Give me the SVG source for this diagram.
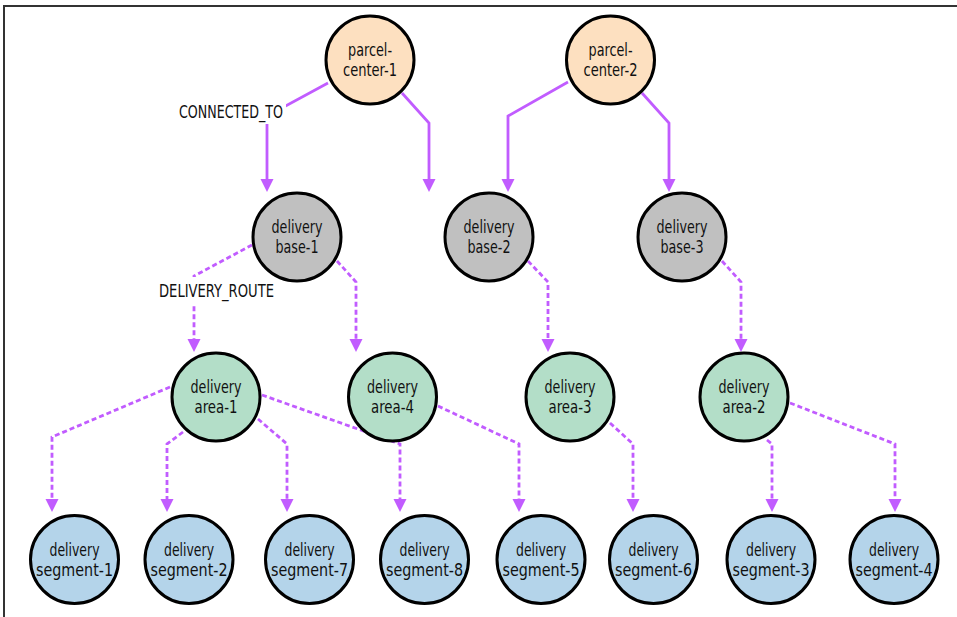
<svg xmlns="http://www.w3.org/2000/svg" width="957" height="617" viewBox="0 0 957 617">
<style>
.frame{fill:none;stroke:#333;stroke-width:2}
.edge{fill:none;stroke:#c15cff;stroke-width:2.8}
.dash{stroke-dasharray:5 3}
.node circle{stroke:#000;stroke-width:3}
.pc circle{fill:#fde0c0}
.base circle{fill:#c0c0c0}
.area circle{fill:#b3dec8}
.seg circle{fill:#b4d4ea}
text{font-family:"DejaVu Sans Condensed","Liberation Sans",sans-serif;font-stretch:condensed;font-size:17px;fill:#111;text-anchor:middle}
.lbl{fill:#fff}
</style>
<defs>
<marker id="arr" markerUnits="userSpaceOnUse" markerWidth="14" markerHeight="14" refX="0" refY="6.5" orient="auto" overflow="visible">
<path d="M0,0 L13,6.5 L0,13 Z" fill="#c15cff" stroke="none"/>
</marker>
</defs>
<path class="frame" d="M4,617 L4,6 L957,6"/>
<g id="connectors">
<path class="edge" marker-end="url(#arr)" d="M328,83 L267,116 L267,179"/>
<path class="edge" marker-end="url(#arr)" d="M402,93 L429,123 L429,179"/>
<path class="edge" marker-end="url(#arr)" d="M568,82 L508,116 L508,179"/>
<path class="edge" marker-end="url(#arr)" d="M642,93 L669,123 L669,179"/>
<path class="edge dash" marker-end="url(#arr)" d="M252,245 L194,276 L194,339"/>
<path class="edge dash" marker-end="url(#arr)" d="M337,261 L356,282 L356,339"/>
<path class="edge dash" marker-end="url(#arr)" d="M528,261 L548,282 L548,339"/>
<path class="edge dash" marker-end="url(#arr)" d="M722,261 L741,282 L741,339"/>
<path class="edge dash" marker-end="url(#arr)" d="M170,387 L52,437 L52,499"/>
<path class="edge dash" marker-end="url(#arr)" d="M183,432 L167,444 L167,499"/>
<path class="edge dash" marker-end="url(#arr)" d="M258,419 L287,444 L287,499"/>
<path class="edge dash" marker-end="url(#arr)" d="M262,395 L400,444 L400,499"/>
<path class="edge dash" marker-end="url(#arr)" d="M438,406 L519,444 L519,499"/>
<path class="edge dash" marker-end="url(#arr)" d="M610,423 L633,444 L633,499"/>
<path class="edge dash" marker-end="url(#arr)" d="M767,440 L772,444 L772,499"/>
<path class="edge dash" marker-end="url(#arr)" d="M790,403 L895,444 L895,499"/>
<rect class="lbl" x="176" y="102" width="110" height="22"/>
<text x="231" y="118" textLength="104" lengthAdjust="spacingAndGlyphs">CONNECTED_TO</text>
<rect class="lbl" x="156" y="277" width="121" height="27"/>
<text x="216.5" y="297" textLength="115" lengthAdjust="spacingAndGlyphs">DELIVERY_ROUTE</text>
</g>
<g id="parcel-center-1" class="node pc"><circle cx="370" cy="60" r="44"/><text x="370" y="56" textLength="44" lengthAdjust="spacingAndGlyphs">parcel-</text><text x="370" y="76" textLength="54" lengthAdjust="spacingAndGlyphs">center-1</text></g>
<g id="parcel-center-2" class="node pc"><circle cx="610.5" cy="60" r="44"/><text x="610.5" y="56" textLength="44" lengthAdjust="spacingAndGlyphs">parcel-</text><text x="610.5" y="76" textLength="54" lengthAdjust="spacingAndGlyphs">center-2</text></g>
<g id="delivery-base-1" class="node base"><circle cx="297" cy="237" r="44"/><text x="297" y="233" textLength="51" lengthAdjust="spacingAndGlyphs">delivery</text><text x="297" y="253" textLength="43" lengthAdjust="spacingAndGlyphs">base-1</text></g>
<g id="delivery-base-2" class="node base"><circle cx="489" cy="237" r="44"/><text x="489" y="233" textLength="51" lengthAdjust="spacingAndGlyphs">delivery</text><text x="489" y="253" textLength="43" lengthAdjust="spacingAndGlyphs">base-2</text></g>
<g id="delivery-base-3" class="node base"><circle cx="682" cy="237" r="44"/><text x="682" y="233" textLength="51" lengthAdjust="spacingAndGlyphs">delivery</text><text x="682" y="253" textLength="43" lengthAdjust="spacingAndGlyphs">base-3</text></g>
<g id="delivery-area-1" class="node area"><circle cx="216" cy="397" r="44"/><text x="216" y="393" textLength="51" lengthAdjust="spacingAndGlyphs">delivery</text><text x="216" y="413" textLength="43" lengthAdjust="spacingAndGlyphs">area-1</text></g>
<g id="delivery-area-4" class="node area"><circle cx="392.5" cy="397" r="44"/><text x="392.5" y="393" textLength="51" lengthAdjust="spacingAndGlyphs">delivery</text><text x="392.5" y="413" textLength="43" lengthAdjust="spacingAndGlyphs">area-4</text></g>
<g id="delivery-area-3" class="node area"><circle cx="570" cy="397" r="44"/><text x="570" y="393" textLength="51" lengthAdjust="spacingAndGlyphs">delivery</text><text x="570" y="413" textLength="43" lengthAdjust="spacingAndGlyphs">area-3</text></g>
<g id="delivery-area-2" class="node area"><circle cx="744" cy="397" r="44"/><text x="744" y="393" textLength="51" lengthAdjust="spacingAndGlyphs">delivery</text><text x="744" y="413" textLength="43" lengthAdjust="spacingAndGlyphs">area-2</text></g>
<g id="delivery-segment-1" class="node seg"><circle cx="74.5" cy="559.5" r="44"/><text x="74.5" y="555.5" textLength="50" lengthAdjust="spacingAndGlyphs">delivery</text><text x="74.5" y="575.5" textLength="77" lengthAdjust="spacingAndGlyphs">segment-1</text></g>
<g id="delivery-segment-2" class="node seg"><circle cx="189" cy="559.5" r="44"/><text x="189" y="555.5" textLength="50" lengthAdjust="spacingAndGlyphs">delivery</text><text x="189" y="575.5" textLength="77" lengthAdjust="spacingAndGlyphs">segment-2</text></g>
<g id="delivery-segment-7" class="node seg"><circle cx="309.5" cy="559.5" r="44"/><text x="309.5" y="555.5" textLength="50" lengthAdjust="spacingAndGlyphs">delivery</text><text x="309.5" y="575.5" textLength="77" lengthAdjust="spacingAndGlyphs">segment-7</text></g>
<g id="delivery-segment-8" class="node seg"><circle cx="424.5" cy="559.5" r="44"/><text x="424.5" y="555.5" textLength="50" lengthAdjust="spacingAndGlyphs">delivery</text><text x="424.5" y="575.5" textLength="77" lengthAdjust="spacingAndGlyphs">segment-8</text></g>
<g id="delivery-segment-5" class="node seg"><circle cx="541" cy="559.5" r="44"/><text x="541" y="555.5" textLength="50" lengthAdjust="spacingAndGlyphs">delivery</text><text x="541" y="575.5" textLength="77" lengthAdjust="spacingAndGlyphs">segment-5</text></g>
<g id="delivery-segment-6" class="node seg"><circle cx="653.5" cy="559.5" r="44"/><text x="653.5" y="555.5" textLength="50" lengthAdjust="spacingAndGlyphs">delivery</text><text x="653.5" y="575.5" textLength="77" lengthAdjust="spacingAndGlyphs">segment-6</text></g>
<g id="delivery-segment-3" class="node seg"><circle cx="771" cy="559.5" r="44"/><text x="771" y="555.5" textLength="50" lengthAdjust="spacingAndGlyphs">delivery</text><text x="771" y="575.5" textLength="77" lengthAdjust="spacingAndGlyphs">segment-3</text></g>
<g id="delivery-segment-4" class="node seg"><circle cx="894" cy="559.5" r="44"/><text x="894" y="555.5" textLength="50" lengthAdjust="spacingAndGlyphs">delivery</text><text x="894" y="575.5" textLength="77" lengthAdjust="spacingAndGlyphs">segment-4</text></g>
</svg>
